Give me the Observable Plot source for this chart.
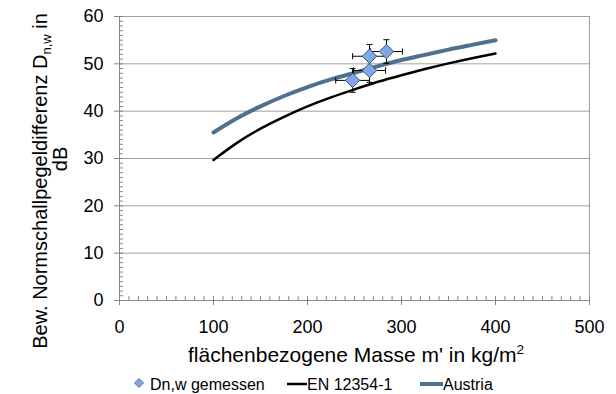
<!DOCTYPE html>
<html><head><meta charset="utf-8">
<script src="https://cdn.jsdelivr.net/npm/d3@7"></script>
<script src="https://cdn.jsdelivr.net/npm/@observablehq/plot@0.6"></script>
<style>body{margin:0;background:#fff}</style>
</head><body><div id="chart"></div>
<script>
// EN 12354-1 curve
const massEN = [100,125,150,175,200,225,250,275,300,325,350,375,400];
const dnwEN  = [29.7,33.3,36.3,38.8,41.0,42.9,44.6,46.2,47.6,48.9,50.1,51.2,52.2];
// Austria curve
const massAT = [100,125,150,175,200,225,250,275,300,325,350,375,400];
const dnwAT  = [35.5,38.5,41.0,43.2,45.1,46.7,48.1,49.5,50.8,51.9,53.0,54.0,55.0];
// measured points with error bars
const measMass = [248,266,266,284];
const measDnw  = [46.5,48.6,51.6,52.6];
const errMass  = [18,17,18,17];
const errDnw   = [2.5,2.5,2.5,2.5];
// ticks
const xMajor = [0,100,200,300,400,500];
const yMajor = [0,10,20,30,40,50,60];
const yGrid  = [10,20,30,40,50,60];
const xMinor = d3.range(0,501,10);
const yMinor = d3.range(0,61,1);

const en = massEN.map((m,i)=>({m, d:dnwEN[i]}));
const at = massAT.map((m,i)=>({m, d:dnwAT[i]}));
const meas = measMass.map((m,i)=>({m, d:measDnw[i], em:errMass[i], ed:errDnw[i]}));

const font = "Arial, 'Liberation Sans', sans-serif";
const axisCol = "#868686";
const capX = 3.2, capY = 0.65;

const chart = Plot.plot({
  width:616, height:394,
  marginLeft:119, marginRight:27, marginTop:16, marginBottom:94,
  x:{domain:[0,500]}, y:{domain:[0,60]},
  style:{fontFamily:font, background:"#fff", color:"#000"},
  marks:[
    Plot.gridY(yGrid, {stroke:"#a0a0a0", strokeOpacity:1}),
    Plot.ruleX([500], {y1:0, y2:60, stroke:"#a0a0a0"}),
    Plot.axisY({ticks:yMinor, tickSize:-4, tickFormat:()=>"", label:null, stroke:axisCol}),
    Plot.axisX({ticks:xMinor, tickSize:-4, tickFormat:()=>"", label:null, stroke:axisCol}),
    Plot.axisY({ticks:yMajor, tickSize:5, tickPadding:11, label:null, stroke:axisCol, fill:"#000", fontSize:18}),
    Plot.axisX({ticks:xMajor, tickSize:5, tickPadding:15, label:null, stroke:axisCol, fill:"#000", fontSize:18}),
    Plot.ruleY([0], {stroke:axisCol}),
    Plot.ruleX([0], {stroke:axisCol}),
    Plot.line(en, {x:"m", y:"d", curve:"natural", stroke:"#000", strokeWidth:2.5}),
    Plot.line(at, {x:"m", y:"d", curve:"natural", stroke:"#50708f", strokeWidth:4}),
    // error bars
    Plot.link(meas, {x1:d=>d.m-d.em, x2:d=>d.m+d.em, y1:"d", y2:"d", stroke:"#000", strokeWidth:1}),
    Plot.link(meas, {x1:"m", x2:"m", y1:d=>d.d-d.ed, y2:d=>d.d+d.ed, stroke:"#000", strokeWidth:1}),
    Plot.link(meas, {x1:d=>d.m-d.em, x2:d=>d.m-d.em, y1:d=>d.d-capY, y2:d=>d.d+capY, stroke:"#000", strokeWidth:1}),
    Plot.link(meas, {x1:d=>d.m+d.em, x2:d=>d.m+d.em, y1:d=>d.d-capY, y2:d=>d.d+capY, stroke:"#000", strokeWidth:1}),
    Plot.link(meas, {x1:d=>d.m-capX, x2:d=>d.m+capX, y1:d=>d.d-d.ed, y2:d=>d.d-d.ed, stroke:"#000", strokeWidth:1}),
    Plot.link(meas, {x1:d=>d.m-capX, x2:d=>d.m+capX, y1:d=>d.d+d.ed, y2:d=>d.d+d.ed, stroke:"#000", strokeWidth:1}),
    Plot.dot(meas, {x:"m", y:"d", symbol:"diamond2", r:6.5, fill:"#7fa8e6", stroke:"#3b5478", strokeWidth:1})
  ]
});

const svg = d3.select(chart);
// y title
const yt = svg.append("text").attr("transform","translate(47,181) rotate(-90)")
  .attr("text-anchor","middle").attr("font-size",20).attr("fill","#000").attr("font-family",font);
yt.append("tspan").text("Bew. Normschallpegeldifferenz D");
yt.append("tspan").attr("font-size",13).attr("dy",4).text("n,w");
yt.append("tspan").attr("dy",-4).text(" in");
svg.append("text").attr("transform","translate(67,159) rotate(-90)")
  .attr("text-anchor","middle").attr("font-size",20).attr("fill","#000").attr("font-family",font).text("dB");
// x title
const xt = svg.append("text").attr("x",356).attr("y",362)
  .attr("text-anchor","middle").attr("font-size",21).attr("fill","#000").attr("font-family",font);
xt.append("tspan").text("flächenbezogene Masse m' in kg/m");
xt.append("tspan").attr("font-size",13.5).attr("dy",-8).text("2");
// legend
const lg = svg.append("g").attr("font-family",font).attr("font-size",16).attr("fill","#000").attr("text-anchor","start");
lg.append("path").attr("d","M139,378.5 L143.5,383 L139,387.5 L134.5,383 Z").attr("fill","#7fa8e6").attr("stroke","#3b5478").attr("stroke-width",0.8);
lg.append("text").attr("x",150).attr("y",390).text("Dn,w gemessen");
lg.append("line").attr("x1",287).attr("x2",307).attr("y1",384).attr("y2",384).attr("stroke","#000").attr("stroke-width",2.5);
lg.append("text").attr("x",307).attr("y",390).text("EN 12354-1");
lg.append("line").attr("x1",420).attr("x2",443).attr("y1",384).attr("y2",384).attr("stroke","#50708f").attr("stroke-width",4);
lg.append("text").attr("x",443).attr("y",390).text("Austria");

document.getElementById("chart").appendChild(chart);
</script>
</body></html>
